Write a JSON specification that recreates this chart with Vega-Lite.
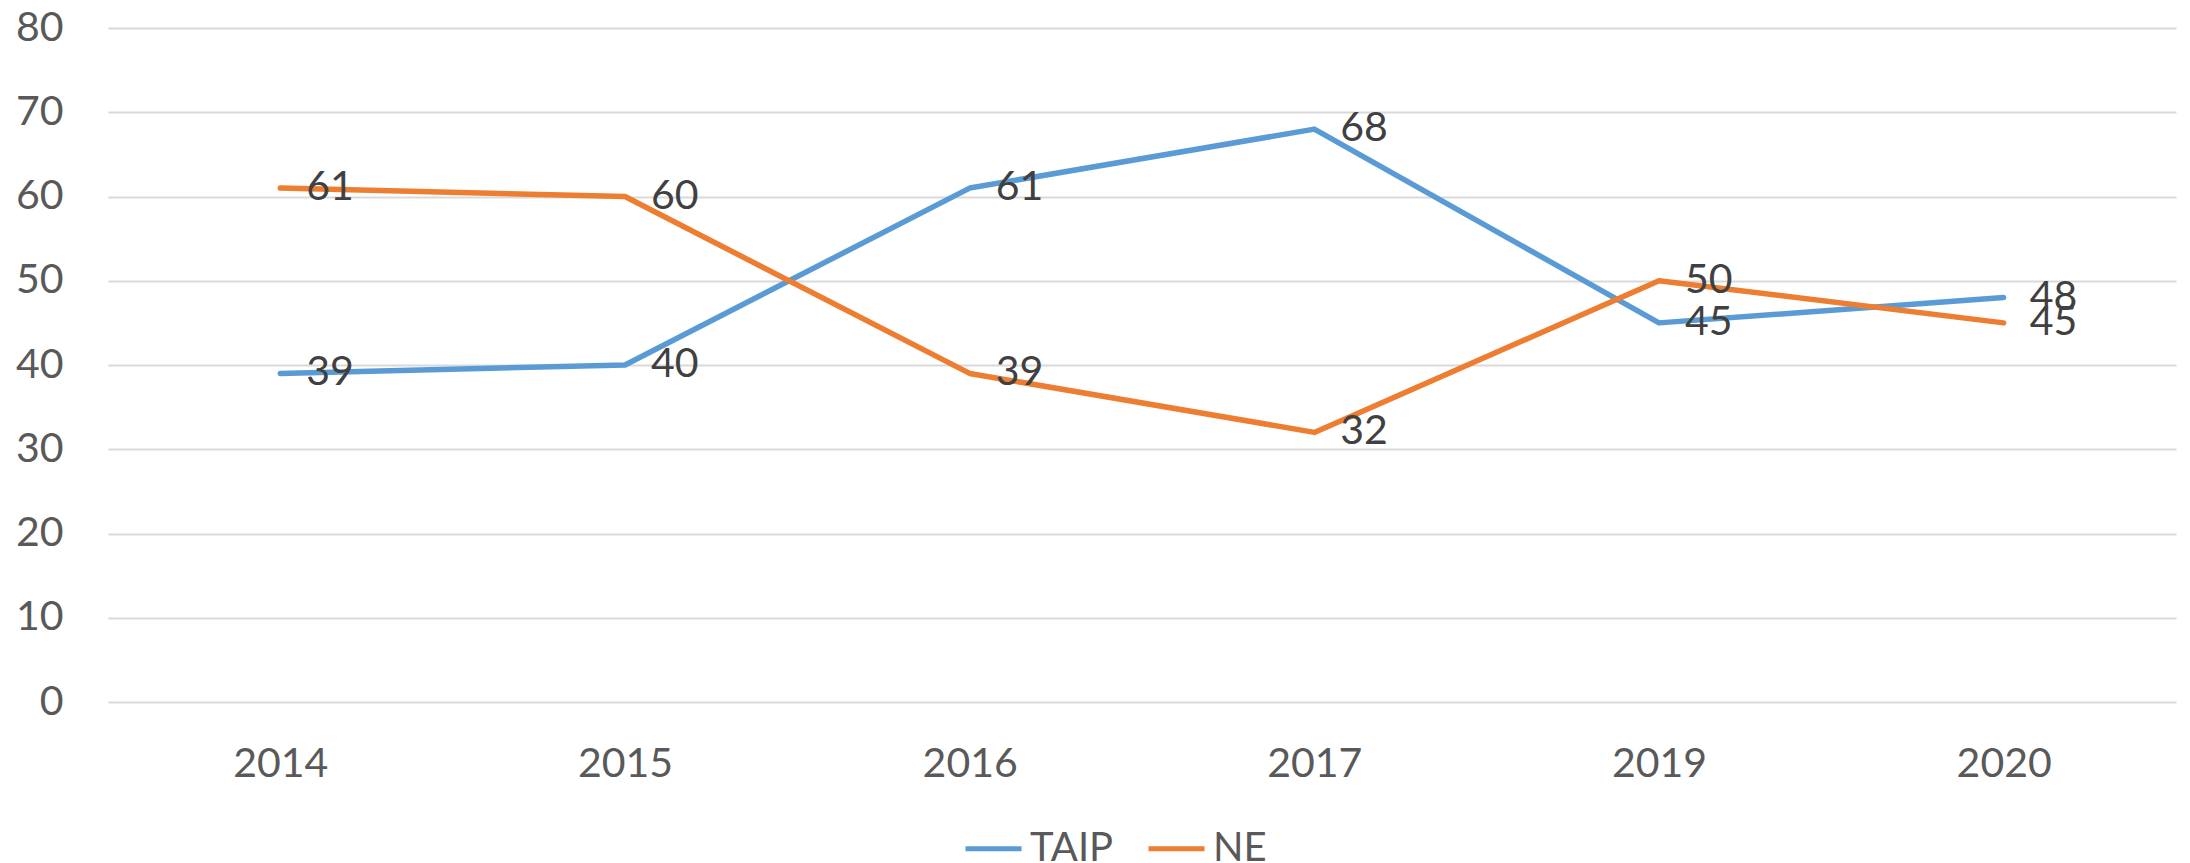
{
  "$schema": "https://vega.github.io/schema/vega-lite/v6.json",
  "autosize": "none",
  "width": 2068,
  "height": 674,
  "padding": {"left": 108, "top": 28, "right": 14, "bottom": 161},
  "background": "white",
  "config": {
    "view": {"stroke": null},
    "font": "Lato",
    "legend": {"padding": 0}
  },
  "data": {
    "values": [
      {"year": "2014", "series": "TAIP", "value": 39},
      {"year": "2015", "series": "TAIP", "value": 40},
      {"year": "2016", "series": "TAIP", "value": 61},
      {"year": "2017", "series": "TAIP", "value": 68},
      {"year": "2019", "series": "TAIP", "value": 45},
      {"year": "2020", "series": "TAIP", "value": 48},
      {"year": "2014", "series": "NE", "value": 61},
      {"year": "2015", "series": "NE", "value": 60},
      {"year": "2016", "series": "NE", "value": 39},
      {"year": "2017", "series": "NE", "value": 32},
      {"year": "2019", "series": "NE", "value": 50},
      {"year": "2020", "series": "NE", "value": 45}
    ]
  },
  "encoding": {
    "x": {
      "field": "year",
      "type": "ordinal",
      "scale": {"paddingInner": 0, "paddingOuter": 0.5},
      "axis": {
        "title": null,
        "domain": false,
        "ticks": false,
        "labelAngle": 0,
        "labelFontSize": 41,
        "labelColor": "#595959",
        "labelPadding": 42
      }
    },
    "y": {
      "field": "value",
      "type": "quantitative",
      "scale": {"domain": [0, 80], "nice": false},
      "axis": {
        "title": null,
        "values": [0, 10, 20, 30, 40, 50, 60, 70, 80],
        "domain": false,
        "ticks": false,
        "labelFontSize": 41,
        "labelColor": "#595959",
        "labelPadding": 45,
        "gridColor": "#d9d9d9",
        "gridWidth": 2
      }
    },
    "color": {
      "field": "series",
      "type": "nominal",
      "scale": {"domain": ["TAIP", "NE"], "range": ["#5b9bd5", "#ed7d31"]}
    }
  },
  "layer": [
    {
      "mark": {"type": "line", "strokeWidth": 5.5, "strokeCap": "round", "strokeJoin": "round"},
      "encoding": {
        "color": {
          "field": "series",
          "type": "nominal",
          "scale": {"domain": ["TAIP", "NE"], "range": ["#5b9bd5", "#ed7d31"]},
          "legend": {
            "title": null,
            "orient": "none",
            "direction": "horizontal",
            "legendX": 855,
            "legendY": 790,
            "symbolType": "stroke",
            "symbolSize": 3136,
            "symbolStrokeWidth": 5,
            "labelFontSize": 40,
            "labelColor": "#595959",
            "labelOffset": 6,
            "columnPadding": 24
          }
        }
      }
    },
    {
      "mark": {"type": "text", "align": "left", "baseline": "middle", "dx": 26, "fontSize": 41, "color": "#404040"},
      "encoding": {
        "text": {"field": "value", "type": "quantitative"},
        "color": {"value": "#404040"}
      }
    }
  ]
}
